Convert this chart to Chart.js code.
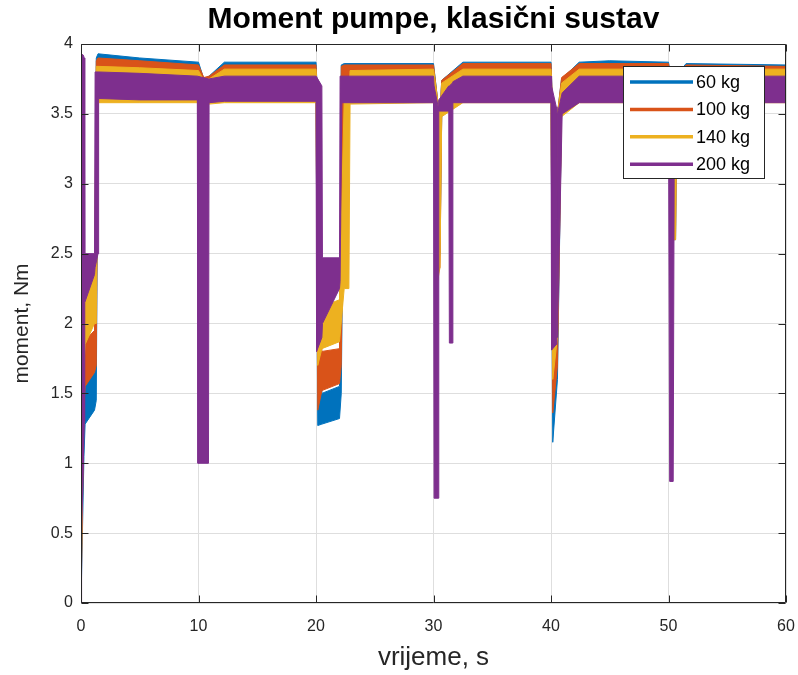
<!DOCTYPE html>
<html>
<head>
<meta charset="utf-8">
<script src="https://cdn.jsdelivr.net/npm/chart.js@4.4.1/dist/chart.umd.min.js"></script>
<style>
  html, body { margin: 0; padding: 0; background: #fff; }
  canvas { display: block; }
</style>
</head>
<body>
<canvas id="myChart" width="798" height="675"></canvas>
<script>
// legend labels and MATLAB default line colours
var labels = ['60 kg', '100 kg', '140 kg', '200 kg'];
var colors = ['#0072BD', '#D95319', '#EDB120', '#7E2F8E'];
var xTicks = [0, 10, 20, 30, 40, 50, 60];
var yTicks = [0, 0.5, 1, 1.5, 2, 2.5, 3, 3.5, 4];

// the signals oscillate fast, so each one is kept as an upper and lower envelope
// 60 kg
var t60  = [0, 0.25, 0.35, 1.15, 1.3, 1.45, 5, 10.0, 10.45, 10.9, 12.2, 20.0, 20.15, 20.5, 22.0, 22.15, 22.4, 30.0, 30.35, 30.55, 30.7, 32.5, 40.0, 40.15, 40.55, 40.9, 42.4, 45, 50.0, 50.3, 50.6, 50.7, 51.5, 60];
var hi60 = [3.90, 1.60, 1.58, 1.65, 3.90, 3.93, 3.90, 3.87, 3.75, 3.77, 3.87, 3.87, 3.60, 1.50, 1.55, 3.85, 3.86, 3.86, 3.60, 3.50, 3.74, 3.87, 3.87, 3.50, 3.50, 3.75, 3.87, 3.88, 3.87, 3.70, 3.60, 3.78, 3.86, 3.85];
var lo60 = [0.00, 1.05, 1.28, 1.38, 1.45, 3.66, 3.65, 3.64, 3.60, 3.60, 3.64, 3.64, 1.27, 1.28, 1.32, 1.50, 3.64, 3.64, 2.40, 2.50, 3.50, 3.64, 3.64, 1.15, 1.60, 3.50, 3.64, 3.65, 3.64, 2.60, 2.60, 3.50, 3.64, 3.63];
// 100 kg
var t100  = [0, 0.25, 0.35, 1.15, 1.3, 1.45, 5, 10.0, 10.45, 10.9, 12.2, 20.0, 20.15, 20.5, 22.0, 22.15, 22.4, 30.0, 30.35, 30.55, 30.7, 32.5, 40.0, 40.15, 40.55, 40.9, 42.4, 45, 50.0, 50.3, 50.6, 50.7, 51.5, 60];
var hi100 = [3.90, 1.90, 1.88, 1.95, 3.88, 3.90, 3.88, 3.85, 3.76, 3.77, 3.85, 3.85, 3.60, 1.80, 1.82, 3.84, 3.85, 3.85, 3.60, 3.50, 3.74, 3.86, 3.86, 3.50, 3.50, 3.76, 3.86, 3.86, 3.86, 3.70, 3.60, 3.78, 3.85, 3.84];
var lo100 = [0.00, 1.40, 1.55, 1.65, 1.70, 3.63, 3.63, 3.62, 3.60, 3.60, 3.62, 3.62, 1.38, 1.52, 1.57, 1.70, 3.62, 3.62, 2.36, 2.40, 3.50, 3.62, 3.62, 1.36, 1.70, 3.50, 3.62, 3.62, 3.62, 2.60, 2.60, 3.50, 3.62, 3.61];
// 140 kg
var t140  = [0, 0.25, 0.35, 1.15, 1.3, 1.45, 5, 10.0, 10.45, 10.9, 12.2, 20.0, 20.15, 20.5, 22.0, 22.4, 22.8, 22.9, 30.0, 30.35, 30.55, 30.7, 32.5, 40.0, 40.15, 40.55, 40.9, 42.4, 50.0, 50.3, 50.6, 50.7, 51.5, 60];
var hi140 = [3.88, 2.20, 2.25, 2.40, 3.84, 3.84, 3.83, 3.81, 3.74, 3.75, 3.82, 3.82, 3.60, 2.12, 2.17, 3.60, 3.60, 3.81, 3.82, 3.60, 3.50, 3.72, 3.82, 3.82, 3.50, 3.50, 3.72, 3.82, 3.82, 3.70, 3.60, 3.75, 3.82, 3.82];
var lo140 = [0.00, 1.70, 1.85, 2.00, 2.00, 3.58, 3.58, 3.58, 3.57, 3.57, 3.58, 3.58, 1.70, 1.82, 1.87, 2.25, 2.25, 3.57, 3.58, 2.30, 2.40, 3.48, 3.58, 3.58, 1.60, 1.90, 3.48, 3.58, 3.58, 2.60, 2.60, 3.45, 3.58, 3.58];
// 200 kg
var t200  = [0, 0.05, 0.2, 0.28, 0.32, 1.15, 1.2, 1.45, 1.5, 5, 9.9, 9.95, 10.85, 10.9, 12.2, 20.0, 20.05, 20.5, 20.55, 22.0, 22.05, 22.2, 30.0, 30.05, 30.4, 30.45, 31.3, 31.35, 31.6, 31.65, 32.5, 40.0, 40.05, 40.45, 40.5, 40.55, 40.95, 42.4, 50.0, 50.1, 50.4, 50.5, 51.5, 60];
var hi200 = [3.93, 3.93, 3.92, 3.90, 2.50, 2.50, 3.80, 3.80, 3.80, 3.79, 3.77, 3.77, 3.75, 3.75, 3.77, 3.77, 3.77, 3.70, 2.47, 2.47, 3.77, 3.77, 3.77, 3.70, 3.55, 3.60, 3.70, 3.70, 3.72, 3.73, 3.77, 3.77, 3.70, 3.55, 2.75, 3.50, 3.65, 3.77, 3.77, 3.70, 3.70, 3.75, 3.77, 3.77];
var lo200 = [0.00, 0.50, 1.00, 1.30, 2.15, 2.35, 2.40, 2.50, 3.61, 3.60, 3.60, 1.00, 1.00, 3.58, 3.59, 3.59, 1.80, 1.90, 2.00, 2.25, 2.30, 3.58, 3.58, 0.75, 0.75, 3.52, 3.52, 1.86, 1.86, 3.58, 3.58, 3.58, 1.81, 1.85, 2.75, 1.90, 3.50, 3.58, 3.58, 0.87, 0.87, 3.55, 3.58, 3.58];

var series = [
    { t: t60, hi: hi60, lo: lo60 },
    { t: t100, hi: hi100, lo: lo100 },
    { t: t140, hi: hi140, lo: lo140 },
    { t: t200, hi: hi200, lo: lo200 }
];

Chart.defaults.font.family = '"Liberation Sans", Arial, Helvetica, sans-serif';

var datasets = [];
series.forEach(function(s, i) {
    var pts = function(arr) {
        return s.t.map(function(x, k) { return { x: x, y: arr[k] }; });
    };
    datasets.push({
        label: labels[i], data: pts(s.hi),
        borderColor: colors[i], backgroundColor: colors[i],
        borderWidth: 1, pointRadius: 0, fill: false, order: 4 - i
    });
    // lower edge, filled up to the upper edge
    datasets.push({
        label: labels[i], isLow: true, data: pts(s.lo),
        borderColor: colors[i], backgroundColor: colors[i],
        borderWidth: 1, pointRadius: 0, fill: '-1', order: 4 - i
    });
});

// MATLAB style box, inward ticks and legend
var frame = {
    id: 'frame',
    afterDraw: function(chart) {
        var ctx = chart.ctx, a = chart.chartArea;
        var xs = chart.scales.x, ys = chart.scales.y;
        var L = Math.round(a.left) + 0.5, R = Math.round(a.right) - 0.5;
        var T = Math.round(a.top) + 0.5, B = Math.round(a.bottom) - 0.5;
        ctx.save();
        ctx.strokeStyle = '#262626';
        ctx.lineWidth = 1;
        ctx.beginPath();
        xTicks.forEach(function(v) {
            var p = Math.round(xs.getPixelForValue(v)) + 0.5;
            ctx.moveTo(p, B); ctx.lineTo(p, B - 7);
            ctx.moveTo(p, T); ctx.lineTo(p, T + 7);
        });
        yTicks.forEach(function(v) {
            var p = Math.round(ys.getPixelForValue(v)) + 0.5;
            ctx.moveTo(L, p); ctx.lineTo(L + 7, p);
            ctx.moveTo(R, p); ctx.lineTo(R - 7, p);
        });
        ctx.rect(L, T, R - L, B - T);
        ctx.stroke();

        // legend
        var lx = Math.round(a.right) - 163, ly = Math.round(a.top) + 22, lw = 141, lh = 112;
        ctx.fillStyle = '#fff';
        ctx.fillRect(lx, ly, lw, lh);
        ctx.strokeStyle = '#262626';
        ctx.strokeRect(lx + 0.5, ly + 0.5, lw, lh);
        var k = 0;
        chart.data.datasets.forEach(function(d) {
            if (d.isLow) return;
            var y = ly + 16 + k * 27.4;
            ctx.strokeStyle = d.borderColor;
            ctx.lineWidth = 3.5;
            ctx.beginPath();
            ctx.moveTo(lx + 7, y); ctx.lineTo(lx + 70, y);
            ctx.stroke();
            ctx.fillStyle = '#000';
            ctx.font = '18px "Liberation Sans", Arial, sans-serif';
            ctx.textBaseline = 'middle';
            ctx.textAlign = 'left';
            ctx.fillText(d.label, lx + 73, y + 1);
            k++;
        });
        ctx.restore();
    }
};

var ctx = document.getElementById('myChart').getContext('2d');
var chart = new Chart(ctx, {
    type: 'line',
    data: { datasets: datasets },
    options: {
        responsive: false,
        animation: false,
        devicePixelRatio: 1,
        layout: { padding: { left: 0, right: 12, top: 0, bottom: 0 } },
        elements: { line: { tension: 0 } },
        plugins: {
            legend: { display: false },
            tooltip: { enabled: false },
            title: {
                display: true,
                fullSize: false,
                text: 'Moment pumpe, klasični sustav',
                color: '#000',
                font: { size: 30, weight: 'bold' },
                padding: { top: 2, bottom: 6 }
            }
        },
        scales: {
            x: {
                type: 'linear', min: 0, max: 60,
                afterBuildTicks: function(s) { s.ticks = xTicks.map(function(v) { return { value: v }; }); },
                afterFit: function(s) { s.height = 72; s.paddingLeft = 0; s.paddingRight = 0; },
                grid: { color: '#dedede', drawTicks: false },
                border: { display: false },
                ticks: {
                    color: '#262626', font: { size: 16 }, padding: 14, maxRotation: 0,
                    callback: function(v) { return String(v); }
                },
                title: {
                    display: true, text: 'vrijeme, s', color: '#262626',
                    font: { size: 26 }, padding: { top: 0, bottom: 2 }
                }
            },
            y: {
                type: 'linear', min: 0, max: 4,
                afterBuildTicks: function(s) { s.ticks = yTicks.map(function(v) { return { value: v }; }); },
                afterFit: function(s) { s.width = 81; s.paddingTop = 0; s.paddingBottom = 0; },
                grid: { color: '#dedede', drawTicks: false },
                border: { display: false },
                ticks: {
                    color: '#262626', font: { size: 16 }, padding: 8,
                    callback: function(v) { return String(v); }
                },
                title: {
                    display: true, text: 'moment, Nm', color: '#262626',
                    font: { size: 21 }, padding: { top: 10, bottom: 0 }
                }
            }
        }
    },
    plugins: [frame]
});
</script>
</body>
</html>
